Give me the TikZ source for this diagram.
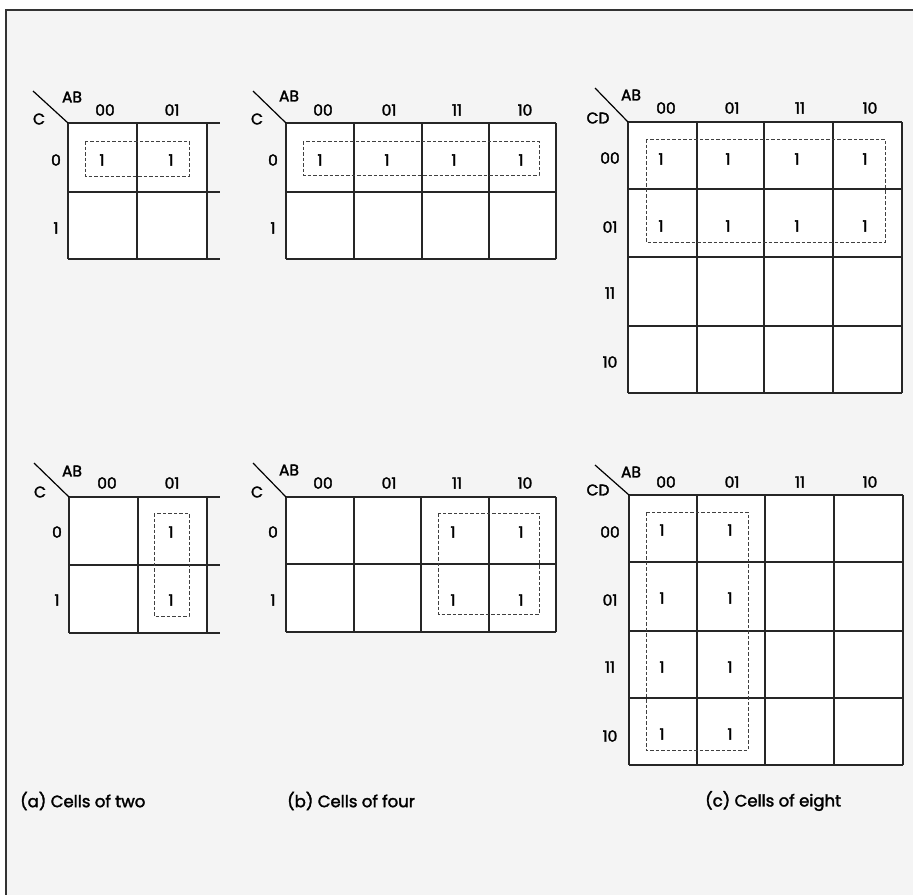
\documentclass[tikz,border=0pt]{standalone}
\usepackage{fontspec}
\setmainfont{Poppins}[FakeBold=2]
\begin{document}
\begin{tikzpicture}[x=1pt,y=-1pt,
  lab/.style={inner sep=0pt,font=\fontsize{15.5}{18}\selectfont},
  one/.style={inner sep=0pt,font=\fontsize{15.5}{18}\selectfont},
  captext/.style={inner sep=0pt,anchor=west,font=\fontsize{16.5}{19}\selectfont},
  gridline/.style={line width=1.4pt,black!85},
  grp/.style={line width=0.9pt,black!75,dash pattern=on 3.5pt off 2pt},
  cellfill/.style={fill=white}]
\useasboundingbox (0,0) rectangle (913,895);
\fill[white] (0,0) rectangle (913,895);
\fill[gray!9] (6,10) rectangle (913,895);
\draw[line width=2.2pt,black!80] (913,10) -- (6,10) -- (6,895);

% ---------- (a) top ----------
\fill[cellfill] (68,123) rectangle (207,259);
\foreach \x in {68,137,207} \draw[gridline] (\x,123) -- (\x,259);
\foreach \y in {123,192,259} \draw[gridline] (68,\y) -- (220,\y);
\draw[line width=1.2pt] (33,91) -- (68,123);
\node[lab] (a1ab) at (72,97) {AB};
\node[lab] (a1c) at (39,119) {C};
\node[lab] (a1c0) at (105,110) {00};
\node[lab] (a1c1) at (172,110) {01};
\node[lab] (a1r0) at (56,160) {0};
\node[lab] (a1r1) at (56,228) {1};
\node[one] (a1x) at (102,160) {1};
\node[one] (a1y) at (171,160) {1};
\draw[grp] (85,141) rectangle (189,176);

% ---------- (b) top ----------
\fill[cellfill] (286,123) rectangle (556,259);
\foreach \x in {286,354,422,489,556} \draw[gridline] (\x,123) -- (\x,259);
\foreach \y in {123,192,259} \draw[gridline] (286,\y) -- (556,\y);
\draw[line width=1.2pt] (253,91) -- (286,123);
\node[lab] (b1ab) at (289,96) {AB};
\node[lab] (b1c) at (257,119) {C};
\node[lab] (b1c0) at (323,110) {00};
\node[lab] (b1c1) at (389,110) {01};
\node[lab] (b1c2) at (457,110) {11};
\node[lab] (b1c3) at (525,110) {10};
\node[lab] (b1r0) at (273,160) {0};
\node[lab] (b1r1) at (273,228) {1};
\foreach \x/\n in {320/1,387/2,454/3,521/4} \node[one] (b1o\n) at (\x,160) {1};
\draw[grp] (303,141) rectangle (539,175);

% ---------- (c) top ----------
\fill[cellfill] (628,122) rectangle (902,393);
\foreach \x in {628,697,764,833,902} \draw[gridline] (\x,122) -- (\x,393);
\foreach \y in {122,189,257,326,393} \draw[gridline] (628,\y) -- (902,\y);
\draw[line width=1.2pt] (595,88) -- (628,122);
\node[lab] (c1ab) at (631,95) {AB};
\node[lab] (c1cd) at (598,118) {CD};
\node[lab] (c1c0) at (666,108) {00};
\node[lab] (c1c1) at (732,108) {01};
\node[lab] (c1c2) at (800,108) {11};
\node[lab] (c1c3) at (870,108) {10};
\node[lab] (c1r0) at (610,158) {00};
\node[lab] (c1r1) at (610,227) {01};
\node[lab] (c1r2) at (610,293) {11};
\node[lab] (c1r3) at (610,362) {10};
\foreach \x/\n in {661/1,728/2,797/3,865/4} {
  \node[one] (c1u\n) at (\x,159) {1};
  \node[one] (c1v\n) at (\x,226) {1};
}
\draw[grp] (646,139) rectangle (885,242);

% ---------- (a) bottom ----------
\fill[cellfill] (69,497) rectangle (207,633);
\foreach \x in {69,138,207} \draw[gridline] (\x,497) -- (\x,633);
\foreach \y in {497,565,633} \draw[gridline] (69,\y) -- (220,\y);
\draw[line width=1.2pt] (34,463) -- (69,497);
\node[lab] (a2ab) at (72,471) {AB};
\node[lab] (a2c) at (40,492) {C};
\node[lab] (a2c0) at (107,483) {00};
\node[lab] (a2c1) at (172,483) {01};
\node[lab] (a2r0) at (57,532) {0};
\node[lab] (a2r1) at (57,600) {1};
\node[one] (a2x) at (171,532) {1};
\node[one] (a2y) at (171,600) {1};
\draw[grp] (154,513) rectangle (189,616);

% ---------- (b) bottom ----------
\fill[cellfill] (286,497) rectangle (556,632);
\foreach \x in {286,354,421,489,556} \draw[gridline] (\x,497) -- (\x,632);
\foreach \y in {497,564,632} \draw[gridline] (286,\y) -- (556,\y);
\draw[line width=1.2pt] (253,463) -- (286,497);
\node[lab] (b2ab) at (289,470) {AB};
\node[lab] (b2c) at (257,492) {C};
\node[lab] (b2c0) at (323,483) {00};
\node[lab] (b2c1) at (389,483) {01};
\node[lab] (b2c2) at (457,483) {11};
\node[lab] (b2c3) at (525,483) {10};
\node[lab] (b2r0) at (273,532) {0};
\node[lab] (b2r1) at (273,600) {1};
\node[one] (b2o1) at (453,532) {1};
\node[one] (b2o2) at (521,532) {1};
\node[one] (b2o3) at (453,600) {1};
\node[one] (b2o4) at (521,600) {1};
\draw[grp] (438,513) rectangle (539,614);

% ---------- (c) bottom ----------
\fill[cellfill] (629,495) rectangle (903,765);
\foreach \x in {629,697,765,834,903} \draw[gridline] (\x,495) -- (\x,765);
\foreach \y in {495,562,631,698,765} \draw[gridline] (629,\y) -- (903,\y);
\draw[line width=1.2pt] (595,465) -- (629,495);
\node[lab] (c2ab) at (631,472) {AB};
\node[lab] (c2cd) at (598,490) {CD};
\node[lab] (c2c0) at (666,482) {00};
\node[lab] (c2c1) at (732,482) {01};
\node[lab] (c2c2) at (800,482) {11};
\node[lab] (c2c3) at (870,482) {10};
\node[lab] (c2r0) at (610,532) {00};
\node[lab] (c2r1) at (610,600) {01};
\node[lab] (c2r2) at (610,667) {11};
\node[lab] (c2r3) at (610,736) {10};
\foreach \y/\n in {530/1,598/2,667/3,734/4} {
  \node[one] (c2u\n) at (662,\y) {1};
  \node[one] (c2v\n) at (730,\y) {1};
}
\draw[grp] (646,512) rectangle (748,750);

% ---------- captions ----------
\node[captext] (capa) at (20,801) {(a) Cells of two};
\node[captext] (capb) at (287,801) {(b) Cells of four};
\node[captext] (capc) at (705,801) {(c) Cells of eight};
\end{tikzpicture}
\end{document}
